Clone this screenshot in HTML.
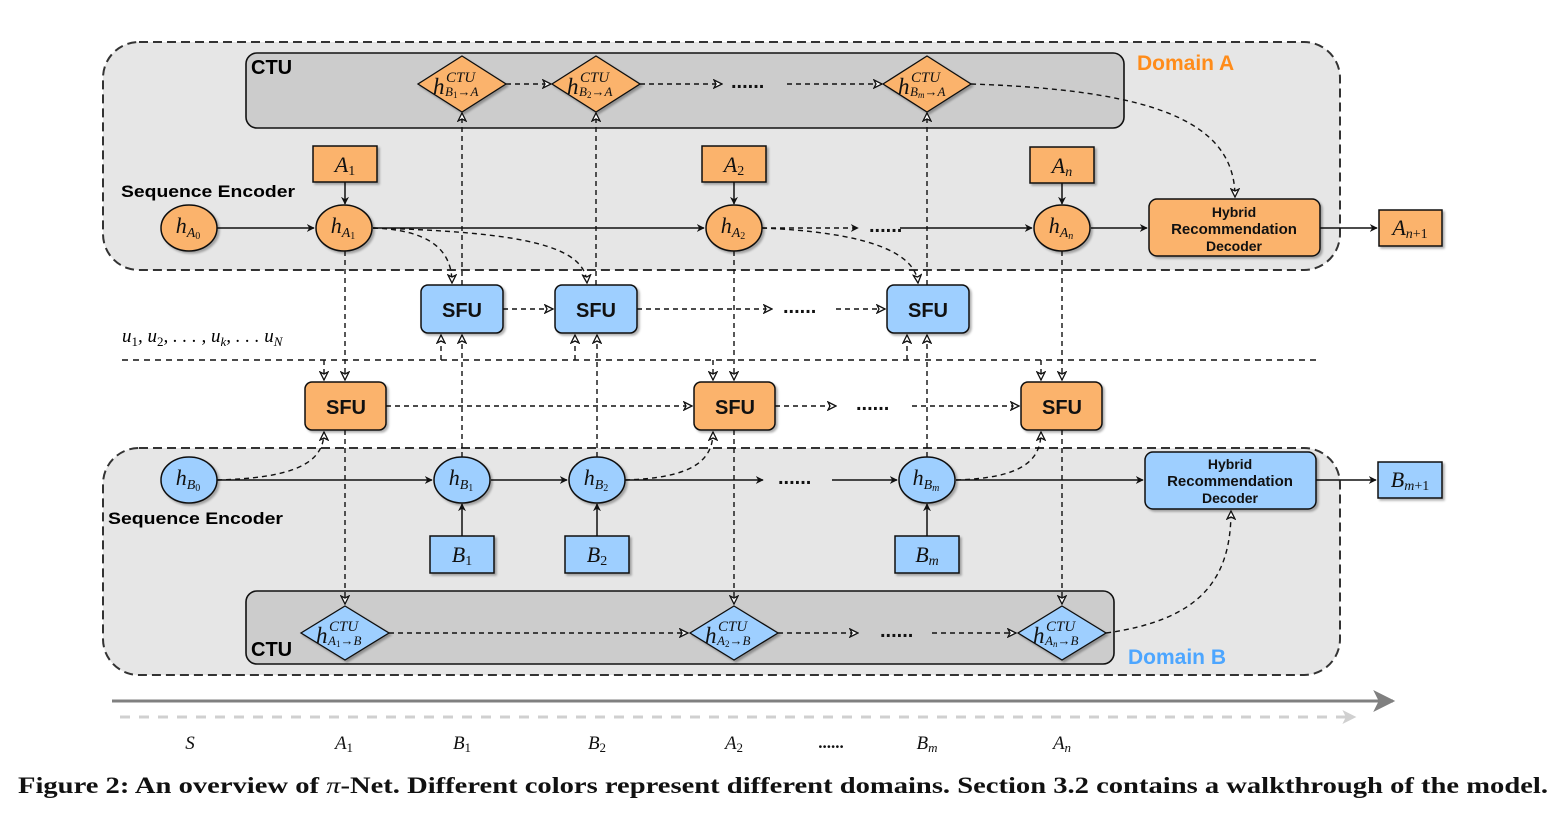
<!DOCTYPE html>
<html><head><meta charset="utf-8"><style>
html,body{margin:0;padding:0;background:#fff;}
svg{display:block}
.sf{font-family:"Liberation Sans",sans-serif;font-weight:bold}
.m{font-family:"Liberation Serif",serif;font-style:italic}
</style></head><body>
<svg width="1562" height="813" viewBox="0 0 1562 813" xmlns="http://www.w3.org/2000/svg">
<defs>
<marker id="fa" viewBox="0 0 10 10" refX="9" refY="5" markerWidth="8" markerHeight="8" orient="auto" markerUnits="userSpaceOnUse"><path d="M0,0 L10,5 L0,10 L3,5 z" fill="#111"/></marker>
<marker id="oa" viewBox="0 0 10 10" refX="9" refY="5" markerWidth="10" markerHeight="10" orient="auto" markerUnits="userSpaceOnUse"><path d="M1,1 L9,5 L1,9 L3,5 z" fill="#fff" stroke="#111" stroke-width="1.3"/></marker>
<marker id="ga" viewBox="0 0 10 10" refX="9" refY="5" markerWidth="26" markerHeight="22" orient="auto" markerUnits="userSpaceOnUse"><path d="M0,0 L10,5 L0,10 L2.5,5 z" fill="#808080"/></marker>
<marker id="la" viewBox="0 0 10 10" refX="9" refY="5" markerWidth="18" markerHeight="14" orient="auto" markerUnits="userSpaceOnUse"><path d="M0,0 L10,5 L0,10 L2.5,5 z" fill="#d0d0d0"/></marker>
<filter id="sh" x="-10%" y="-10%" width="130%" height="130%"><feDropShadow dx="2" dy="2" stdDeviation="1" flood-color="#000" flood-opacity="0.3"/></filter>
</defs>

<rect x="103" y="42" width="1237" height="228" rx="36" fill="#e6e6e6" stroke="#333" stroke-width="2" stroke-dasharray="9,5"/>
<rect x="103" y="448" width="1237" height="227" rx="36" fill="#e6e6e6" stroke="#333" stroke-width="2" stroke-dasharray="9,5"/>
<rect x="246" y="53" width="878" height="75" rx="11" fill="#cccccc" stroke="#111" stroke-width="1.6"/>
<rect x="246" y="591" width="868" height="73" rx="11" fill="#cccccc" stroke="#111" stroke-width="1.6"/>
<text x="251" y="74" class="sf" font-size="20">CTU</text>
<text x="251" y="656" class="sf" font-size="20">CTU</text>
<text x="1137" y="70" class="sf" font-size="21" fill="#ff8c1a">Domain A</text>
<text x="1128" y="664" class="sf" font-size="21" fill="#4da6ff">Domain B</text>
<text x="121" y="197" class="sf" font-size="17" textLength="174" lengthAdjust="spacingAndGlyphs">Sequence Encoder</text>
<text x="108" y="524" class="sf" font-size="17" textLength="175" lengthAdjust="spacingAndGlyphs">Sequence Encoder</text>

<line x1="122" y1="360" x2="1320" y2="360" stroke="#111" stroke-width="1.5" stroke-dasharray="6,5"/>
<text x="122" y="342" class="m" font-size="19">u<tspan font-size="13" dy="4" font-style="normal">1</tspan><tspan dy="-4">, u</tspan><tspan font-size="13" dy="4" font-style="normal">2</tspan><tspan dy="-4">, . . . , u</tspan><tspan font-size="13" dy="4">k</tspan><tspan dy="-4">, . . . u</tspan><tspan font-size="13" dy="4">N</tspan></text>

<g fill="none" stroke="#111" stroke-width="1.5">
<line x1="217" y1="228" x2="314" y2="228" marker-end="url(#fa)"/>
<line x1="373" y1="228" x2="704" y2="228" marker-end="url(#fa)"/>
<line x1="900" y1="228" x2="1032" y2="228" marker-end="url(#fa)"/>
<line x1="1091" y1="228" x2="1147" y2="228" marker-end="url(#fa)"/>
<line x1="1320" y1="228" x2="1377" y2="228" marker-end="url(#fa)"/>
<line x1="345" y1="182" x2="345" y2="204" marker-end="url(#fa)"/>
<line x1="734" y1="182" x2="734" y2="204" marker-end="url(#fa)"/>
<line x1="1062" y1="183" x2="1062" y2="204" marker-end="url(#fa)"/>
<line x1="217" y1="480" x2="432" y2="480" marker-end="url(#fa)"/>
<line x1="491" y1="480" x2="567" y2="480" marker-end="url(#fa)"/>
<line x1="625" y1="480" x2="763" y2="480" marker-end="url(#fa)"/>
<line x1="832" y1="480" x2="897" y2="480" marker-end="url(#fa)"/>
<line x1="956" y1="480" x2="1143" y2="480" marker-end="url(#fa)"/>
<line x1="1316" y1="480" x2="1376" y2="480" marker-end="url(#fa)"/>
<line x1="462" y1="536" x2="462" y2="504" marker-end="url(#fa)"/>
<line x1="597" y1="536" x2="597" y2="504" marker-end="url(#fa)"/>
<line x1="927" y1="536" x2="927" y2="504" marker-end="url(#fa)"/>
</g>

<g fill="none" stroke="#111" stroke-width="1.4" stroke-dasharray="5,4">
<line x1="762" y1="228" x2="858" y2="228" marker-end="url(#fa)"/>
<line x1="506" y1="84" x2="551" y2="84" marker-end="url(#oa)"/>
<line x1="640" y1="84" x2="722" y2="84" marker-end="url(#oa)"/>
<line x1="787" y1="84" x2="882" y2="84" marker-end="url(#oa)"/>
<path d="M971,84 C1150,90 1235,120 1235,197" marker-end="url(#oa)"/>
<line x1="462" y1="285" x2="462" y2="113" marker-end="url(#oa)"/>
<line x1="596" y1="285" x2="596" y2="113" marker-end="url(#oa)"/>
<line x1="927" y1="285" x2="927" y2="113" marker-end="url(#oa)"/>
<path d="M373,228 C430,230 452,250 452,283" marker-end="url(#oa)"/>
<path d="M373,228 C520,232 585,245 587,283" marker-end="url(#oa)"/>
<path d="M762,228 C860,232 915,250 918,283" marker-end="url(#oa)"/>
<line x1="503" y1="309" x2="553" y2="309" marker-end="url(#oa)"/>
<line x1="637" y1="309" x2="772" y2="309" marker-end="url(#oa)"/>
<line x1="836" y1="309" x2="885" y2="309" marker-end="url(#oa)"/>
<line x1="462" y1="457" x2="462" y2="335" marker-end="url(#oa)"/>
<line x1="441" y1="360" x2="441" y2="335" marker-end="url(#oa)"/>
<line x1="597" y1="457" x2="597" y2="335" marker-end="url(#oa)"/>
<line x1="575" y1="360" x2="575" y2="335" marker-end="url(#oa)"/>
<line x1="927" y1="457" x2="927" y2="335" marker-end="url(#oa)"/>
<line x1="907" y1="360" x2="907" y2="335" marker-end="url(#oa)"/>
<line x1="345" y1="251" x2="345" y2="380" marker-end="url(#oa)"/>
<line x1="324" y1="360" x2="324" y2="380" marker-end="url(#oa)"/>
<line x1="734" y1="251" x2="734" y2="380" marker-end="url(#oa)"/>
<line x1="713" y1="360" x2="713" y2="380" marker-end="url(#oa)"/>
<line x1="1062" y1="251" x2="1062" y2="380" marker-end="url(#oa)"/>
<line x1="1041" y1="360" x2="1041" y2="380" marker-end="url(#oa)"/>
<line x1="386" y1="406" x2="692" y2="406" marker-end="url(#oa)"/>
<line x1="775" y1="406" x2="836" y2="406" marker-end="url(#oa)"/>
<line x1="912" y1="406" x2="1019" y2="406" marker-end="url(#oa)"/>
<path d="M217,480 C290,478 324,465 324,432" marker-end="url(#oa)"/>
<path d="M625,480 C690,478 713,462 713,432" marker-end="url(#oa)"/>
<path d="M956,480 C1020,478 1041,462 1041,432" marker-end="url(#oa)"/>
<line x1="345" y1="430" x2="345" y2="604" marker-end="url(#oa)"/>
<line x1="734" y1="430" x2="734" y2="604" marker-end="url(#oa)"/>
<line x1="1062" y1="430" x2="1062" y2="604" marker-end="url(#oa)"/>
<line x1="389" y1="633" x2="688" y2="633" marker-end="url(#oa)"/>
<line x1="778" y1="633" x2="858" y2="633" marker-end="url(#oa)"/>
<line x1="932" y1="633" x2="1016" y2="633" marker-end="url(#oa)"/>
<path d="M1106,633 C1200,620 1231,580 1231,511" marker-end="url(#oa)"/>
</g>

<g class="sf" font-size="20" fill="#111">
<text x="731" y="88">......</text>
<text x="869" y="232">......</text>
<text x="783" y="313">......</text>
<text x="856" y="410">......</text>
<text x="778" y="484">......</text>
<text x="880" y="637">......</text>
</g>

<g stroke="#111" stroke-width="1.3" filter="url(#sh)">
<polygon points="462,56 506,84 462,112 418,84" fill="#fbb36c"/>
<polygon points="596,56 640,84 596,112 552,84" fill="#fbb36c"/>
<polygon points="927,56 971,84 927,112 883,84" fill="#fbb36c"/>
<polygon points="345,606 389,633 345,660 301,633" fill="#9ecfff"/>
<polygon points="734,606 778,633 734,660 690,633" fill="#9ecfff"/>
<polygon points="1062,606 1106,633 1062,660 1018,633" fill="#9ecfff"/>
</g>
<g class="m" fill="#111">
<text x="433" y="94" font-size="23">h</text><text x="446" y="82" font-size="15">CTU</text><text x="445" y="96" font-size="13">B<tspan font-size="9" dy="2" font-style="normal">1</tspan><tspan dy="-2">→A</tspan></text>
<text x="567" y="94" font-size="23">h</text><text x="580" y="82" font-size="15">CTU</text><text x="579" y="96" font-size="13">B<tspan font-size="9" dy="2" font-style="normal">2</tspan><tspan dy="-2">→A</tspan></text>
<text x="898" y="94" font-size="23">h</text><text x="911" y="82" font-size="15">CTU</text><text x="910" y="96" font-size="13">B<tspan font-size="9" dy="2">m</tspan><tspan dy="-2">→A</tspan></text>
<text x="316" y="643" font-size="23">h</text><text x="329" y="631" font-size="15">CTU</text><text x="328" y="645" font-size="13">A<tspan font-size="9" dy="2" font-style="normal">1</tspan><tspan dy="-2">→B</tspan></text>
<text x="705" y="643" font-size="23">h</text><text x="718" y="631" font-size="15">CTU</text><text x="717" y="645" font-size="13">A<tspan font-size="9" dy="2" font-style="normal">2</tspan><tspan dy="-2">→B</tspan></text>
<text x="1033" y="643" font-size="23">h</text><text x="1046" y="631" font-size="15">CTU</text><text x="1045" y="645" font-size="13">A<tspan font-size="9" dy="2">n</tspan><tspan dy="-2">→B</tspan></text>
</g>

<g stroke="#111" stroke-width="1.5" filter="url(#sh)">
<rect x="313" y="146" width="64" height="36" fill="#fbb36c"/>
<rect x="702" y="146" width="64" height="36" fill="#fbb36c"/>
<rect x="1030" y="147" width="64" height="36" fill="#fbb36c"/>
<rect x="1379" y="210" width="63" height="36" fill="#fbb36c"/>
<rect x="430" y="536" width="64" height="37" fill="#9ecfff"/>
<rect x="565" y="536" width="64" height="37" fill="#9ecfff"/>
<rect x="895" y="536" width="64" height="37" fill="#9ecfff"/>
<rect x="1378" y="462" width="64" height="36" fill="#9ecfff"/>
<ellipse cx="189" cy="228" rx="28" ry="23" fill="#fbb36c"/>
<ellipse cx="344" cy="228" rx="28" ry="23" fill="#fbb36c"/>
<ellipse cx="734" cy="228" rx="28" ry="23" fill="#fbb36c"/>
<ellipse cx="1062" cy="228" rx="28" ry="23" fill="#fbb36c"/>
<ellipse cx="189" cy="480" rx="28" ry="23" fill="#9ecfff"/>
<ellipse cx="462" cy="480" rx="28" ry="23" fill="#9ecfff"/>
<ellipse cx="597" cy="480" rx="28" ry="23" fill="#9ecfff"/>
<ellipse cx="927" cy="480" rx="28" ry="23" fill="#9ecfff"/>
<rect x="421" y="285" width="82" height="48" rx="7" fill="#9ecfff"/>
<rect x="555" y="285" width="82" height="48" rx="7" fill="#9ecfff"/>
<rect x="887" y="285" width="82" height="48" rx="7" fill="#9ecfff"/>
<rect x="305" y="382" width="81" height="48" rx="7" fill="#fbb36c"/>
<rect x="694" y="382" width="81" height="48" rx="7" fill="#fbb36c"/>
<rect x="1021" y="382" width="81" height="48" rx="7" fill="#fbb36c"/>
<rect x="1149" y="199" width="171" height="57" rx="8" fill="#fbb36c"/>
<rect x="1145" y="452" width="171" height="57" rx="8" fill="#9ecfff"/>
</g>

<g class="sf" fill="#111" text-anchor="middle">
<text x="462" y="317" font-size="20">SFU</text>
<text x="596" y="317" font-size="20">SFU</text>
<text x="928" y="317" font-size="20">SFU</text>
<text x="346" y="414" font-size="20">SFU</text>
<text x="735" y="414" font-size="20">SFU</text>
<text x="1062" y="414" font-size="20">SFU</text>
<text x="1234" y="217" font-size="14">Hybrid</text>
<text x="1234" y="234" font-size="15">Recommendation</text>
<text x="1234" y="251" font-size="14">Decoder</text>
<text x="1230" y="469" font-size="14">Hybrid</text>
<text x="1230" y="486" font-size="15">Recommendation</text>
<text x="1230" y="503" font-size="14">Decoder</text>
</g>

<g class="m" fill="#111" text-anchor="middle">
<text x="345" y="172" font-size="22">A<tspan font-size="14" dy="3" font-style="normal">1</tspan></text>
<text x="734" y="172" font-size="22">A<tspan font-size="14" dy="3" font-style="normal">2</tspan></text>
<text x="1062" y="173" font-size="22">A<tspan font-size="14" dy="3">n</tspan></text>
<text x="1410" y="235" font-size="22">A<tspan font-size="14" dy="3">n</tspan><tspan font-size="14" font-style="normal">+1</tspan></text>
<text x="462" y="562" font-size="22">B<tspan font-size="14" dy="3" font-style="normal">1</tspan></text>
<text x="597" y="562" font-size="22">B<tspan font-size="14" dy="3" font-style="normal">2</tspan></text>
<text x="927" y="562" font-size="22">B<tspan font-size="14" dy="3">m</tspan></text>
<text x="1410" y="487" font-size="22">B<tspan font-size="14" dy="3">m</tspan><tspan font-size="14" font-style="normal">+1</tspan></text>
<text x="188" y="233" font-size="22">h<tspan font-size="14" dy="4">A</tspan><tspan font-size="10" dy="2" font-style="normal">0</tspan></text>
<text x="343" y="233" font-size="22">h<tspan font-size="14" dy="4">A</tspan><tspan font-size="10" dy="2" font-style="normal">1</tspan></text>
<text x="733" y="233" font-size="22">h<tspan font-size="14" dy="4">A</tspan><tspan font-size="10" dy="2" font-style="normal">2</tspan></text>
<text x="1061" y="233" font-size="22">h<tspan font-size="14" dy="4">A</tspan><tspan font-size="10" dy="2">n</tspan></text>
<text x="188" y="485" font-size="22">h<tspan font-size="14" dy="4">B</tspan><tspan font-size="10" dy="2" font-style="normal">0</tspan></text>
<text x="461" y="485" font-size="22">h<tspan font-size="14" dy="4">B</tspan><tspan font-size="10" dy="2" font-style="normal">1</tspan></text>
<text x="596" y="485" font-size="22">h<tspan font-size="14" dy="4">B</tspan><tspan font-size="10" dy="2" font-style="normal">2</tspan></text>
<text x="926" y="485" font-size="22">h<tspan font-size="14" dy="4">B</tspan><tspan font-size="10" dy="2">m</tspan></text>
</g>

<line x1="112" y1="701" x2="1393" y2="701" stroke="#808080" stroke-width="3" marker-end="url(#ga)"/>
<line x1="120" y1="717" x2="1355" y2="717" stroke="#d0d0d0" stroke-width="3" stroke-dasharray="10,9" marker-end="url(#la)"/>
<g class="m" fill="#111" font-size="19" text-anchor="middle">
<text x="190" y="749">S</text>
<text x="344" y="749">A<tspan font-size="13" dy="3" font-style="normal">1</tspan></text>
<text x="462" y="749">B<tspan font-size="13" dy="3" font-style="normal">1</tspan></text>
<text x="597" y="749">B<tspan font-size="13" dy="3" font-style="normal">2</tspan></text>
<text x="734" y="749">A<tspan font-size="13" dy="3" font-style="normal">2</tspan></text>
<text x="831" y="748" font-style="normal" font-weight="bold" font-size="17">......</text>
<text x="927" y="749">B<tspan font-size="13" dy="3">m</tspan></text>
<text x="1062" y="749">A<tspan font-size="13" dy="3">n</tspan></text>
</g>

<text x="18" y="793" font-family="'Liberation Serif',serif" font-weight="bold" font-size="23" textLength="1530" lengthAdjust="spacingAndGlyphs" fill="#111">Figure 2: An overview of <tspan font-style="italic" font-weight="normal">π</tspan>-Net. Different colors represent different domains. Section 3.2 contains a walkthrough of the model.</text>
</svg>
</body></html>
